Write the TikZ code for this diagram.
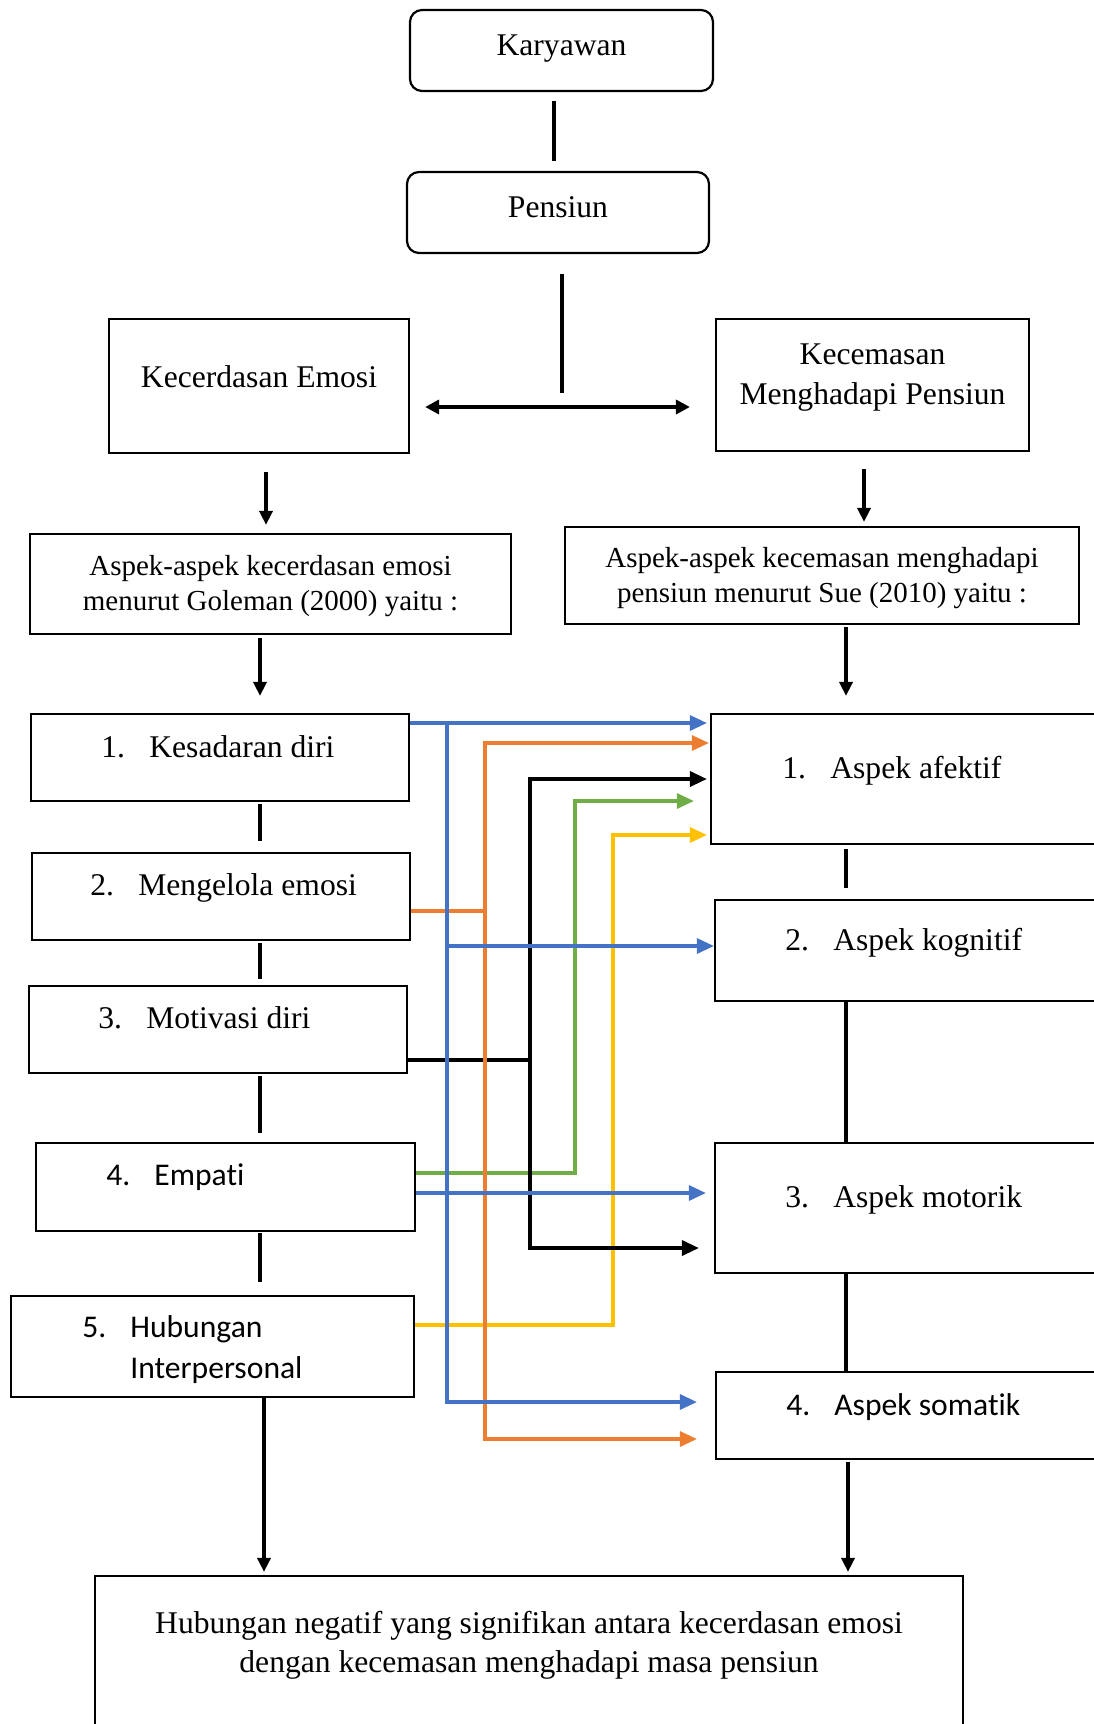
\documentclass[tikz,border=0pt]{standalone}
\usepackage{fontspec}
\setmainfont{Liberation Serif}
\newfontfamily\calibri[Ligatures=NoCommon]{Carlito}
\usetikzlibrary{arrows.meta, calc, positioning}

\definecolor{lblue}{HTML}{4472C4}
\definecolor{lorange}{HTML}{ED7D31}
\definecolor{lgreen}{HTML}{70AD47}
\definecolor{lyellow}{HTML}{FFC000}

\newcommand{\num}[2]{\makebox[24pt][l]{#1}#2}

\begin{document}
\begin{tikzpicture}[x=0.5pt, y=-0.5pt,
    font=\fontsize{15.8pt}{20pt}\selectfont,
    box/.style={draw, line width=1.1pt, inner sep=0pt},
    rbox/.style={box, rounded corners=6pt},
    sz/.style 2 args={minimum width=#1*0.5pt, minimum height=#2*0.5pt},
    txt/.style={inner sep=0pt, align=center},
    item/.style={inner sep=0pt, anchor=base west},
    small/.style={font=\fontsize{14.5pt}{17.5pt}\selectfont},
    sans/.style={font=\calibri\fontsize{15.8pt}{20.5pt}\selectfont},
    ln/.style={line width=1.75pt},
    arr/.style={ln, -{Triangle[length=7pt, width=6.5pt]}},
    link/.style={line width=1.6pt, -{Triangle[length=8.5pt, width=7.5pt]}}]

    \useasboundingbox (0,0) rectangle (1093,1724);

    % Boxes
    \node[rbox, sz={303}{81}] (kary) at (561.5,50.5) {};
    \node[rbox, sz={302}{81}] (pens) at (558,212.5) {};
    \node[box, sz={300}{134}] (ke) at (259,386) {};
    \node[box, sz={313}{132}] (kmp) at (872.5,385) {};
    \node[box, sz={481}{100}] (aske) at (270.5,584) {};
    \node[box, sz={514}{97}] (askm) at (822,575.5) {};
    \node[box, sz={378}{87}] (l1) at (220,757.5) {};
    \node[box, sz={378}{87}] (l2) at (221,896.5) {};
    \node[box, sz={378}{87}] (l3) at (218,1029.5) {};
    \node[box, sz={379}{88}] (l4) at (225.5,1187) {};
    \node[box, sz={403}{101}] (l5) at (212.5,1346.5) {};
    \node[box, sz={389}{130}] (r1) at (905.5,779) {};
    \node[box, sz={385}{101}] (r2) at (907.5,950.5) {};
    \node[box, sz={385}{130}] (r3) at (907.5,1208) {};
    \node[box, sz={384}{87}] (r4) at (908,1415.5) {};
    \node[box, sz={868}{164}] (hasil) at (529,1658) {};

    % Texts
    \node[txt, anchor=base] (karyT) at (561.5,55) {Karyawan};
    \node[txt, anchor=base] (pensT) at (558,217) {Pensiun};
    \node[txt, anchor=base] (keT) at (259,387) {Kecerdasan Emosi};
    \node[txt, anchor=north] (kmpT) at (872.5,343) {Kecemasan\\Menghadapi Pensiun};
    \node[txt, small, anchor=north] (askeT) at (270.5,555) {Aspek-aspek kecerdasan emosi\\menurut Goleman (2000) yaitu :};
    \node[txt, small, anchor=north] (askmT) at (822,547) {Aspek-aspek kecemasan menghadapi\\pensiun menurut Sue (2010) yaitu :};
    \node[item] (l1T) at (101,757) {\num{1.}{Kesadaran diri}};
    \node[item] (l2T) at (90,895) {\num{2.}{Mengelola emosi}};
    \node[item] (l3T) at (98,1028) {\num{3.}{Motivasi diri}};
    \node[item, sans] (l4T) at (106,1185) {\num{4.}{Empati}};
    \node[item, sans, anchor=north west, align=left] (l5T) at (82,1315) {\num{5.}{Hubungan}\\\hspace*{24pt}Interpersonal};
    \node[item] (r1T) at (782,778) {\num{1.}{Aspek afektif}};
    \node[item] (r2T) at (785,950) {\num{2.}{Aspek kognitif}};
    \node[item] (r3T) at (785,1207) {\num{3.}{Aspek motorik}};
    \node[item, sans] (r4T) at (786,1415) {\num{4.}{Aspek somatik}};
    \node[txt, anchor=north, font=\fontsize{15.8pt}{19.5pt}\selectfont] (hasilT) at (529,1611) {Hubungan negatif yang signifikan antara kecerdasan emosi\\dengan kecemasan menghadapi masa pensiun};

    % Top part
    \coordinate (ay) at (0,407);
    \draw[ln, shorten <=4.5pt, shorten >=5pt] ($(kary.south)+(-7.5,0)$) -- ($(pens.north)+(-4,0)$);
    \draw[ln, shorten <=10pt, shorten >=7pt] ($(pens.south)+(4,0)$) -- ($(pens.south |- ay)+(4,0)$);
    \draw[ln, {Triangle[length=7pt, width=7pt]}-{Triangle[length=7pt, width=7pt]}, shorten <=7.5pt, shorten >=12.5pt] (ke.east |- ay) -- (kmp.west |- ay);
    \draw[arr, shorten <=9pt, shorten >=4pt] ($(ke.south)+(7,0)$) -- ($(aske.north)+(-4.5,0)$);
    \draw[arr, shorten <=8.5pt, shorten >=2pt] ($(kmp.south)+(-8.5,0)$) -- ($(askm.north)+(42,0)$);

    % Left column
    \coordinate (lx) at (260,0);
    \draw[arr, shorten <=1.5pt, shorten >=8.5pt] (lx |- aske.south) -- (lx |- l1.north);
    \draw[ln, shorten <=1pt, shorten >=5.5pt] (lx |- l1.south) -- (lx |- l2.north);
    \draw[ln, shorten <=1pt, shorten >=3pt] (lx |- l2.south) -- (lx |- l3.north);
    \draw[ln, shorten <=1pt, shorten >=4.5pt] (lx |- l3.south) -- (lx |- l4.north);
    \draw[ln, shorten <=0.5pt, shorten >=6.5pt] (lx |- l4.south) -- (lx |- l5.north);
    \draw[arr, shorten >=1.5pt] ($(lx |- l5.south)+(4,0)$) -- ($(lx |- hasil.north)+(4,0)$);

    % Right column
    \coordinate (rx) at (846,0);
    \draw[arr, shorten <=1pt, shorten >=8.5pt] (rx |- askm.south) -- (rx |- r1.north);
    \draw[ln, shorten <=2pt, shorten >=5.5pt] (rx |- r1.south) -- (rx |- r2.north);
    \draw[ln] (rx |- r2.south) -- (rx |- r3.north);
    \draw[ln] (rx |- r3.south) -- (rx |- r4.north);
    \draw[arr, shorten <=1pt, shorten >=1.5pt] ($(rx |- r4.south)+(2,0)$) -- ($(rx |- hasil.north)+(2,0)$);

    % Links between the aspects
    \coordinate (xb) at (447,0);
    \coordinate (xo) at (485,0);
    \coordinate (xk) at (530,0);
    \coordinate (xg) at (575,0);
    \coordinate (xy) at (613,0);
    \coordinate (b1) at ($(r1.west)+(0,-56)$);
    \coordinate (b2) at ($(r2.west)+(0,-4.5)$);
    \coordinate (b3) at ($(r3.west)+(0,-15)$);
    \coordinate (b4) at ($(r4.west)+(0,-13.5)$);
    \coordinate (o1) at ($(r1.west)+(0,-36)$);
    \coordinate (o4) at ($(r4.west)+(0,23.5)$);
    \coordinate (g1) at ($(r1.west)+(0,22)$);
    \coordinate (y1) at ($(r1.west)+(0,56)$);

    \draw[link, lyellow, shorten >=1.5pt] ($(l5.east)+(0,-21.5)$) -| (xy |- y1) -- (y1);
    \draw[link, lgreen, shorten >=8pt] ($(l4.east)+(0,-14)$) -| (xg |- g1) -- (g1);
    \draw[link, black, line width=1.75pt, shorten >=1.5pt] ($(l3.east)+(0,30.5)$) -| (xk |- r1.west) -- (r1.west);
    \draw[link, black, line width=1.75pt, shorten >=7.5pt] ($(xk |- l3.east)+(0,30.5)$) |- ($(r3.west)+(0,40)$);
    \draw[link, lorange, shorten >=0.5pt] ($(l2.east)+(0,14.5)$) -| (xo |- o1) -- (o1);
    \draw[link, lorange, shorten >=9pt] ($(xo |- l2.east)+(0,14.5)$) |- (o4);
    \draw[link, lblue, shorten >=1.5pt] (l1.east |- b1) -- (b1);
    \draw[link, lblue, shorten >=9pt] (xb |- b1) |- (b4);
    \draw[link, lblue] (xb |- b2) -- (b2);
    \draw[link, lblue, shorten >=4pt] (l4.east |- b3) -- (b3);
\end{tikzpicture}
\end{document}
